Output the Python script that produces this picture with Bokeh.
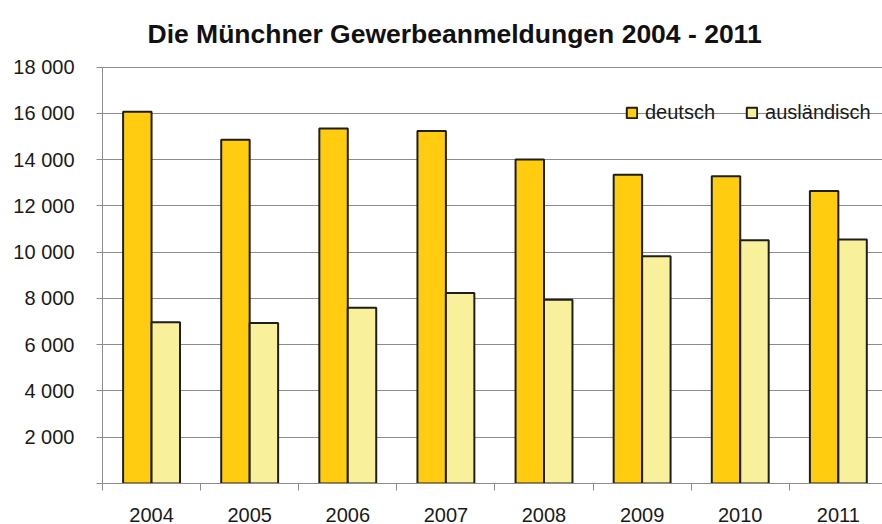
from bokeh.plotting import figure
from bokeh.models import ColumnDataSource, Range1d, FixedTicker, Legend, LegendItem, Label
from bokeh.transform import dodge
from bokeh.embed import file_html
from bokeh.resources import INLINE

title_text = "Die Münchner Gewerbeanmeldungen 2004 - 2011"
years = ["2004", "2005", "2006", "2007", "2008", "2009", "2010", "2011"]
deutsch = [16070, 14860, 15340, 15230, 14000, 13340, 13280, 12640]
auslaendisch = [6970, 6940, 7600, 8230, 7940, 9820, 10510, 10550]
y_ticks = [0, 2000, 4000, 6000, 8000, 10000, 12000, 14000, 16000, 18000]

pos = [i + 0.5 for i in range(len(years))]
src = ColumnDataSource(dict(x=pos, year=years, deutsch=deutsch, ausl=auslaendisch))

FONT = "Liberation Sans"
GRID = "#8c8c8c"

# frame spans the full height above the x axis; the value axis only covers 0..18000
FRAME_H = 483
AXIS_H = 416.5
y_top = 18000 * FRAME_H / AXIS_H

p = figure(width=882, height=524, output_backend="svg", toolbar_location=None,
           x_range=Range1d(0, 7.95), y_range=Range1d(0, y_top),
           min_border_left=102, min_border_right=0, min_border_top=0, min_border_bottom=41)
p.outline_line_color = None
p.background_fill_color = "white"
p.border_fill_color = "white"

title = Label(x=45, y=FRAME_H - 33, x_units="screen", y_units="screen", text=title_text,
              text_font=FONT, text_font_size="26.5px", text_font_style="bold",
              text_color="#111111", text_align="left", text_baseline="alphabetic")
p.add_layout(title)

w = 0.29
r1 = p.vbar(x=dodge("x", -w / 2, range=p.x_range), top="deutsch", width=w, source=src,
            fill_color="#FFCC0F", line_color="#1e1e1e", line_width=2)
r2 = p.vbar(x=dodge("x", w / 2, range=p.x_range), top="ausl", width=w, source=src,
            fill_color="#F8F09A", line_color="#1e1e1e", line_width=2)

# x axis
p.xaxis.ticker = FixedTicker(ticks=pos, minor_ticks=list(range(len(years) + 1)))
p.xaxis.major_label_overrides = {x: y for x, y in zip(pos, years)}
p.xaxis.major_tick_line_color = None
p.xaxis.major_tick_out = 0
p.xaxis.major_tick_in = 0
p.xaxis.minor_tick_line_color = GRID
p.xaxis.minor_tick_out = 7
p.xaxis.minor_tick_in = 0
p.xaxis.axis_line_color = GRID
p.xaxis.major_label_text_font = FONT
p.xaxis.major_label_text_font_size = "20px"
p.xaxis.major_label_text_color = "#1a1a1a"
p.xaxis.major_label_standoff = 17

# y axis
p.yaxis.ticker = FixedTicker(ticks=y_ticks)
p.yaxis.bounds = (y_ticks[0], y_ticks[-1])
p.yaxis.major_label_overrides = {t: ("" if t == 0 else f"{t:,}".replace(",", " ")) for t in y_ticks}
p.yaxis.axis_line_color = GRID
p.yaxis.major_tick_line_color = GRID
p.yaxis.major_tick_out = 6
p.yaxis.major_tick_in = 0
p.yaxis.minor_tick_line_color = None
p.yaxis.major_label_text_font = FONT
p.yaxis.major_label_text_font_size = "20px"
p.yaxis.major_label_text_color = "#1a1a1a"
p.yaxis.major_label_standoff = 22

p.xgrid.grid_line_color = None
p.ygrid.ticker = FixedTicker(ticks=y_ticks[1:])
p.ygrid.grid_line_color = GRID
p.ygrid.grid_line_width = 1

legend = Legend(items=[LegendItem(label="deutsch", renderers=[r1]),
                       LegendItem(label="ausländisch", renderers=[r2])],
                orientation="horizontal", location=(523, 359),
                label_text_font=FONT, label_text_font_size="20px", label_text_color="#1a1a1a",
                glyph_width=13, glyph_height=13, label_standoff=7, spacing=30,
                padding=0, margin=0, border_line_color=None, background_fill_alpha=0)
p.add_layout(legend, "center")

open("out.html", "w").write(file_html(p, INLINE))
